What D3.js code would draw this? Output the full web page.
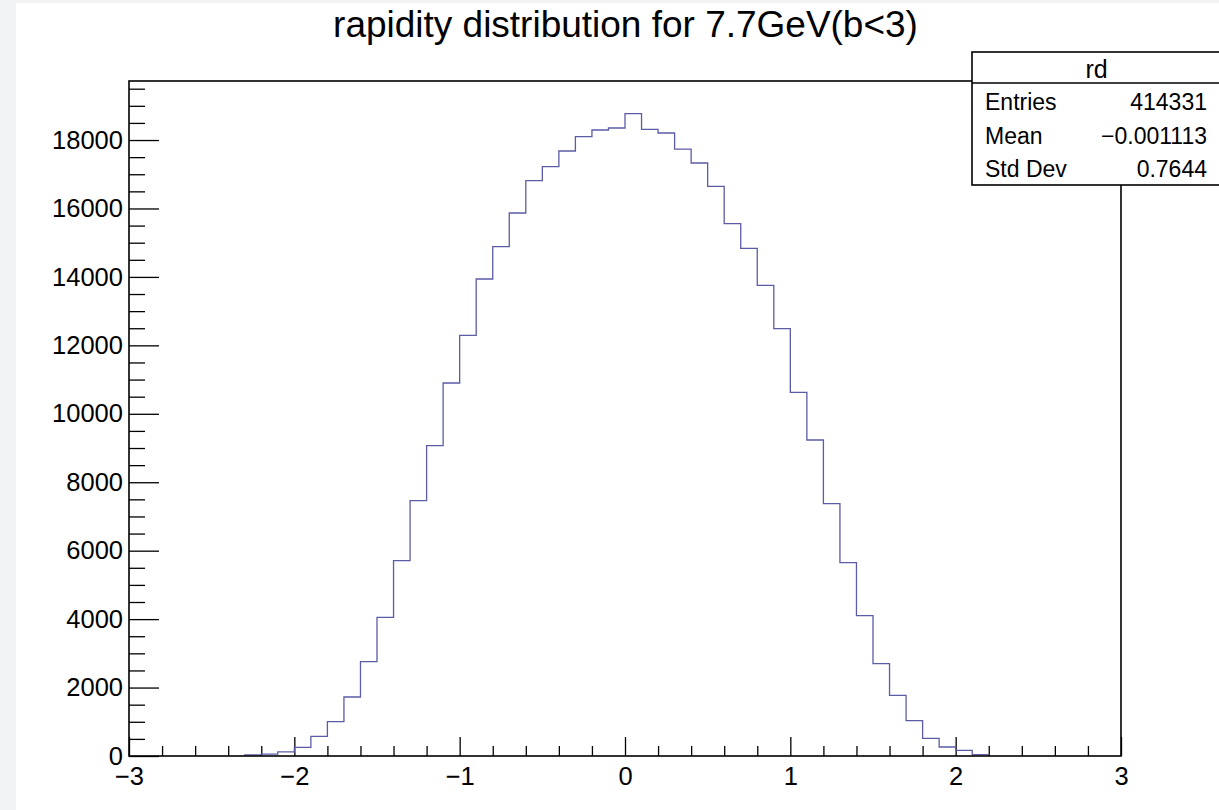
<!DOCTYPE html>
<html>
<head>
<meta charset="utf-8">
<script src="https://cdn.jsdelivr.net/npm/d3@7"></script>
<style>
  html, body { margin: 0; padding: 0; background: #f2f3f5; }
  svg { display: block; }
  text { font-family: "Liberation Sans", Arial, Helvetica, sans-serif; fill: #000; }
</style>
</head>
<body>
<svg id="chart" width="1219" height="810"></svg>
<script>
// ---- data ----
const title = "rapidity distribution for 7.7GeV(b<3)";
const histName = "rd";
const firstBinEdge = -2.3;
const binWidth = 0.1;
const counts = [
  30, 55, 120, 254, 575, 1003, 1724, 2757, 4052, 5708, 7462, 9069, 10900,
  12293, 13939, 14883, 15867, 16812, 17221, 17679, 18097, 18293, 18352,
  18770, 18312, 18205, 17737, 17329, 16647, 15556, 14835, 13753, 12487,
  10628, 9234, 7373, 5649, 4101, 2698, 1773, 1033, 516, 263, 166, 40
];
const statLabels = ["Entries", "Mean", "Std Dev"];
const statValues = ["414331", "\u22120.001113", "0.7644"];
const xDomain = [-3, 3];
const yDomain = [0, 19725];
const xMajorTicks = [-3, -2, -1, 0, 1, 2, 3];
const yMajorTicks = [0, 2000, 4000, 6000, 8000, 10000, 12000, 14000, 16000, 18000];

// ---- layout ----
const svg = d3.select("#chart");
const W = 1219, H = 810;
const frame = { left: 129, right: 1121, top: 81, bottom: 756 };

svg.append("rect").attr("x", 16).attr("y", 3).attr("width", W - 16).attr("height", H - 3).attr("fill", "#ffffff");

const x = d3.scaleLinear().domain(xDomain).range([frame.left, frame.right]);
const y = d3.scaleLinear().domain(yDomain).range([frame.bottom, frame.top]);

const fmtMinus = v => (v < 0 ? "\u2212" : "") + Math.abs(v);

// minor y ticks
const yMinor = d3.range(0, yDomain[1], 500).filter(v => v % 2000 !== 0);
svg.append("g")
  .attr("transform", `translate(${frame.left},0)`)
  .call(d3.axisLeft(y).tickValues(yMinor).tickSizeInner(-16).tickSizeOuter(0).tickFormat(""))
  .call(g => g.select(".domain").remove())
  .call(g => g.selectAll("line").attr("stroke", "#000").attr("stroke-width", 1.3));

// major y ticks
svg.append("g")
  .attr("transform", `translate(${frame.left},0)`)
  .call(d3.axisLeft(y).tickValues(yMajorTicks).tickSizeInner(-30).tickSizeOuter(0).tickPadding(6).tickFormat(d => String(d)))
  .call(g => g.select(".domain").remove())
  .call(g => g.selectAll("line").attr("stroke", "#000").attr("stroke-width", 1.3))
  .call(g => g.selectAll("text").attr("font-size", 25.5).attr("font-family", "Liberation Sans, Arial, sans-serif").attr("fill", "#000"));

// minor x ticks
const xMinor = d3.range(-30, 31, 2).map(v => v / 10).filter(v => Math.abs(v - Math.round(v)) > 1e-9);
svg.append("g")
  .attr("transform", `translate(0,${frame.bottom})`)
  .call(d3.axisBottom(x).tickValues(xMinor).tickSizeInner(-10).tickSizeOuter(0).tickFormat(""))
  .call(g => g.select(".domain").remove())
  .call(g => g.selectAll("line").attr("stroke", "#000").attr("stroke-width", 1.3));

// major x ticks
svg.append("g")
  .attr("transform", `translate(0,${frame.bottom})`)
  .call(d3.axisBottom(x).tickValues(xMajorTicks).tickSizeInner(-19).tickSizeOuter(0).tickPadding(11).tickFormat(fmtMinus))
  .call(g => g.select(".domain").remove())
  .call(g => g.selectAll("line").attr("stroke", "#000").attr("stroke-width", 1.3))
  .call(g => g.selectAll("text").attr("font-size", 25.5).attr("font-family", "Liberation Sans, Arial, sans-serif").attr("fill", "#000"));

// histogram step line
const bins = counts.map((c, i) => ({ x0: firstBinEdge + i * binWidth, x1: firstBinEdge + (i + 1) * binWidth, c }));
const pts = [];
pts.push([bins[0].x0, 0]);
bins.forEach(b => { pts.push([b.x0, b.c]); pts.push([b.x1, b.c]); });
pts.push([bins[bins.length - 1].x1, 0]);
const line = d3.line().x(d => x(d[0])).y(d => y(d[1]));
svg.append("path")
  .attr("d", line(pts))
  .attr("fill", "none")
  .attr("stroke", "#5c5ca6")
  .attr("stroke-width", 1.3);

// frame
svg.append("rect")
  .attr("x", frame.left).attr("y", frame.top)
  .attr("width", frame.right - frame.left).attr("height", frame.bottom - frame.top)
  .attr("fill", "none").attr("stroke", "#000").attr("stroke-width", 1.6);

// title
const t = svg.append("text")
  .attr("x", 625.5).attr("y", 37)
  .attr("text-anchor", "middle")
  .attr("font-size", 30)
  .text(title);
const len = t.node().getComputedTextLength();
t.attr("font-size", 30 * 585 / len);

// stats box
const box = { left: 972, right: 1221, top: 52, bottom: 185, header: 83 };
svg.append("rect")
  .attr("x", box.left).attr("y", box.top)
  .attr("width", box.right - box.left).attr("height", box.bottom - box.top)
  .attr("fill", "#fff").attr("stroke", "#000").attr("stroke-width", 1.6);
svg.append("line")
  .attr("x1", box.left).attr("x2", box.right)
  .attr("y1", box.header).attr("y2", box.header)
  .attr("stroke", "#000").attr("stroke-width", 1.3);
svg.append("text")
  .attr("x", 1096.5).attr("y", 78)
  .attr("text-anchor", "middle").attr("font-size", 25)
  .text(histName);
const rowBase = [110, 143.5, 177];
statLabels.forEach((l, i) => {
  svg.append("text").attr("x", 985).attr("y", rowBase[i]).attr("font-size", 23).text(l);
  svg.append("text").attr("x", 1207).attr("y", rowBase[i]).attr("text-anchor", "end").attr("font-size", 23).text(statValues[i]);
});
</script>
</body>
</html>
